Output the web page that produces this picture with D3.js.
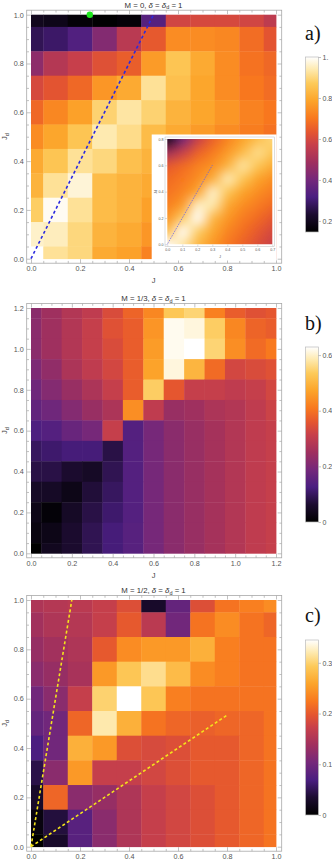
<!DOCTYPE html>
<html>
<head>
<meta charset="utf-8">
<script src="https://cdn.jsdelivr.net/npm/d3@7"></script>
<style>
body { margin: 0; background: #fff; }
svg { display: block; font-family: "Liberation Sans", Arial, sans-serif; }
.tick text { fill: #555; }
</style>
</head>
<body>
<div id="chart"></div>
<script>
// ---- data ----
// panel a : M = 0
var jA = [0, 0.1, 0.2, 0.3, 0.4, 0.5, 0.6, 0.7, 0.8, 0.9, 1.0]
var jdA = [1.0, 0.9, 0.8, 0.7, 0.6, 0.5, 0.4, 0.3, 0.2, 0.1, 0.0]
var valsA = [
  [0.20, 0.19, 0.16, 0.15, 0.16, 0.34, 0.59, 0.60, 0.60, 0.59, 0.55],
  [0.27, 0.29, 0.33, 0.43, 0.54, 0.64, 0.74, 0.74, 0.73, 0.68, 0.63],
  [0.45, 0.53, 0.57, 0.62, 0.65, 0.77, 0.86, 0.80, 0.74, 0.69, 0.67],
  [0.60, 0.63, 0.67, 0.76, 0.80, 0.92, 0.85, 0.79, 0.74, 0.70, 0.68],
  [0.67, 0.73, 0.78, 0.89, 0.93, 0.89, 0.82, 0.79, 0.76, 0.72, 0.70],
  [0.74, 0.79, 0.86, 0.94, 0.91, 0.84, 0.80, 0.77, 0.74, 0.71, 0.69],
  [0.80, 0.86, 0.92, 0.90, 0.85, 0.82, 0.78, 0.75, 0.73, 0.70, 0.68],
  [0.82, 0.92, 0.97, 0.84, 0.82, 0.80, 0.76, 0.74, 0.72, 0.69, 0.67],
  [0.88, 0.99, 0.92, 0.84, 0.82, 0.78, 0.74, 0.72, 0.70, 0.68, 0.66],
  [0.96, 0.95, 0.90, 0.82, 0.80, 0.76, 0.72, 0.70, 0.68, 0.66, 0.64],
  [1.00, 0.92, 0.90, 0.80, 0.78, 0.72, 0.70, 0.68, 0.66, 0.64, 0.62]
]
var rangeA = [0.146, 1.0]
var cbTicksA = [0.2, 0.4, 0.6, 0.8, 1.0]
var greenDot = [0.24, 1.0]
var blueLine = [[0, 0], [0.5, 1.0]]

// inset of panel a (smooth plot, normalised colour values)
var jIn = [0, 0.1, 0.2, 0.3, 0.4, 0.5, 0.6, 0.7]
var jdIn = [0.8, 0.7, 0.6, 0.5, 0.4, 0.3, 0.2, 0.1, 0.0]
var valsIn = [
  [0.05, 0.30, 0.50, 0.60, 0.68, 0.75, 0.82, 0.88],
  [0.40, 0.50, 0.60, 0.66, 0.73, 0.81, 0.90, 0.84],
  [0.58, 0.62, 0.67, 0.71, 0.79, 0.92, 0.84, 0.77],
  [0.62, 0.65, 0.70, 0.77, 0.94, 0.84, 0.75, 0.70],
  [0.64, 0.68, 0.75, 0.96, 0.84, 0.75, 0.70, 0.66],
  [0.67, 0.73, 0.95, 0.93, 0.76, 0.70, 0.66, 0.62],
  [0.72, 0.86, 1.00, 0.80, 0.72, 0.66, 0.62, 0.57],
  [0.82, 1.00, 0.86, 0.76, 0.68, 0.63, 0.58, 0.53],
  [1.00, 0.92, 0.80, 0.72, 0.65, 0.60, 0.55, 0.50]
]
var insetLine = [[0, 0], [0.3, 0.6]]

// panel b : M = 1/3
var jB = [0, 0.1, 0.2, 0.3, 0.4, 0.5, 0.6, 0.7, 0.8, 0.9, 1.0, 1.1, 1.2]
var jdB = [1.2, 1.1, 1.0, 0.9, 0.8, 0.7, 0.6, 0.5, 0.4, 0.3, 0.2, 0.1, 0.0]
var valsB = [
  [0.22, 0.25, 0.28, 0.30, 0.34, 0.38, 0.43, 0.53, 0.55, 0.42, 0.37, 0.35, 0.36],
  [0.22, 0.25, 0.28, 0.31, 0.35, 0.37, 0.45, 0.62, 0.61, 0.54, 0.43, 0.38, 0.37],
  [0.22, 0.25, 0.28, 0.31, 0.34, 0.37, 0.46, 0.62, 0.63, 0.55, 0.44, 0.39, 0.41],
  [0.20, 0.23, 0.27, 0.30, 0.33, 0.37, 0.47, 0.61, 0.50, 0.39, 0.33, 0.34, 0.35],
  [0.18, 0.21, 0.24, 0.27, 0.31, 0.37, 0.54, 0.36, 0.31, 0.31, 0.30, 0.31, 0.33],
  [0.16, 0.18, 0.21, 0.24, 0.27, 0.44, 0.30, 0.24, 0.25, 0.27, 0.28, 0.30, 0.32],
  [0.13, 0.14, 0.17, 0.19, 0.31, 0.14, 0.19, 0.22, 0.24, 0.26, 0.28, 0.30, 0.31],
  [0.10, 0.11, 0.12, 0.12, 0.08, 0.14, 0.19, 0.22, 0.24, 0.26, 0.28, 0.30, 0.31],
  [0.08, 0.08, 0.06, 0.05, 0.09, 0.14, 0.19, 0.22, 0.24, 0.26, 0.28, 0.30, 0.31],
  [0.05, 0.05, 0.03, 0.07, 0.10, 0.14, 0.19, 0.22, 0.24, 0.26, 0.28, 0.30, 0.31],
  [0.03, 0.01, 0.05, 0.08, 0.11, 0.14, 0.19, 0.22, 0.24, 0.26, 0.28, 0.30, 0.31],
  [0.02, 0.03, 0.06, 0.09, 0.12, 0.145, 0.19, 0.22, 0.24, 0.26, 0.28, 0.30, 0.31],
  [0.00, 0.04, 0.06, 0.09, 0.12, 0.145, 0.19, 0.22, 0.24, 0.26, 0.28, 0.30, 0.31]
]
var rangeB = [0, 0.629]
var cbTicksB = [0, 0.2, 0.4, 0.6]

// panel c : M = 1/2
var jC = [0, 0.1, 0.2, 0.3, 0.4, 0.5, 0.6, 0.7, 0.8, 0.9, 1.0]
var jdC = [1.0, 0.9, 0.8, 0.7, 0.6, 0.5, 0.4, 0.3, 0.2, 0.1, 0.0]
var valsC = [
  [0.150, 0.155, 0.160, 0.170, 0.190, 0.030, 0.090, 0.190, 0.220, 0.230, 0.240],
  [0.140, 0.150, 0.155, 0.170, 0.200, 0.160, 0.100, 0.220, 0.240, 0.220, 0.210],
  [0.130, 0.140, 0.150, 0.200, 0.240, 0.250, 0.250, 0.270, 0.230, 0.220, 0.220],
  [0.120, 0.130, 0.145, 0.250, 0.290, 0.310, 0.280, 0.240, 0.230, 0.220, 0.220],
  [0.100, 0.120, 0.170, 0.300, 0.345, 0.290, 0.230, 0.220, 0.220, 0.220, 0.220],
  [0.090, 0.100, 0.210, 0.320, 0.270, 0.220, 0.210, 0.205, 0.210, 0.210, 0.220],
  [0.070, 0.100, 0.270, 0.250, 0.190, 0.185, 0.190, 0.200, 0.200, 0.210, 0.220],
  [0.045, 0.120, 0.250, 0.170, 0.170, 0.180, 0.190, 0.200, 0.200, 0.210, 0.220],
  [0.030, 0.210, 0.120, 0.130, 0.150, 0.170, 0.180, 0.190, 0.200, 0.210, 0.220],
  [0.010, 0.040, 0.080, 0.120, 0.150, 0.170, 0.180, 0.190, 0.200, 0.210, 0.220],
  [0.000, 0.030, 0.080, 0.120, 0.150, 0.170, 0.180, 0.190, 0.200, 0.210, 0.220]
]
var rangeC = [0, 0.345]
var cbTicksC = [0, 0.1, 0.2, 0.3]
var yellowLines = [[[0, 0], [1 / 6, 1.0]], [[0, 0], [0.8, 0.533]]]

// sunset-like colour gradient (black -> purple -> red -> orange -> yellow -> white)
var stopsT = [0, 0.1, 0.2, 0.3, 0.4, 0.5, 0.57, 0.65, 0.75, 0.85, 0.93, 1]
var stopsC = ["#000000", "#1c0c30", "#4a1e80", "#75287a", "#a0305e", "#c8404a",
  "#e45530", "#f8781e", "#fca42a", "#fdca5a", "#feeab0", "#ffffff"]

function makeColor(lo, hi) {
  return d3.scaleLinear()
    .domain(stopsT.map(function (t) { return lo + t * (hi - lo) }))
    .range(stopsC)
    .clamp(true)
}

var svg = d3.select("#chart")
  .append("svg")
    .attr("width", 332)
    .attr("height", 867)

var defs = svg.append("defs")
var f1 = d3.format(".1f")

// one heat map panel with its frame, ticks and labels
function drawPanel(p) {
  var g = svg.append("g")
  var x = d3.scaleLinear().domain([0, p.max]).range([31, 276])
  var y = d3.scaleLinear().domain([0, p.max]).range([p.y0, p.y1])
  var color = makeColor(p.range[0], p.range[1])
  var h = 0.05

  // cells
  p.vals.forEach(function (row, i) {
    g.selectAll(null)
      .data(row)
      .enter()
      .append("rect")
        .attr("x", function (d, k) { return x(Math.max(0, p.j[k] - h)) })
        .attr("width", function (d, k) { return x(Math.min(p.max, p.j[k] + h)) - x(Math.max(0, p.j[k] - h)) + 0.4 })
        .attr("y", y(Math.min(p.max, p.jd[i] + h)))
        .attr("height", y(Math.max(0, p.jd[i] - h)) - y(Math.min(p.max, p.jd[i] + h)) + 0.4)
        .attr("fill", function (d) { return color(d) })
  })

  // frame
  var fx0 = 26.7, fx1 = 281.7, fy0 = p.y1 - 4.5, fy1 = p.y0 + 4.5
  g.append("rect")
    .attr("x", fx0).attr("y", fy0)
    .attr("width", fx1 - fx0).attr("height", fy1 - fy0)
    .attr("fill", "none").attr("stroke", "#a8a8a8").attr("stroke-width", 0.8)

  var major = d3.range(0, p.max + 0.001, 0.2)
  var minor = d3.range(0, p.max + 0.001, 0.05).filter(function (v) { return Math.abs(v / 0.2 - Math.round(v / 0.2)) > 0.01 })

  function ax(a, vals, len, labels) {
    return a.tickValues(vals).tickSizeInner(-len).tickSizeOuter(0).tickPadding(3)
      .tickFormat(labels ? f1 : "")
  }
  var axes = [
    ["translate(0," + fy1 + ")", true],
    ["translate(0," + fy0 + ")", false],
    ["translate(" + fx0 + ",0)", true],
    ["translate(" + fx1 + ",0)", false]
  ]
  var axisMaker = [d3.axisBottom, d3.axisTop, d3.axisLeft, d3.axisRight]
  axes.forEach(function (a, n) {
    var sc = n < 2 ? x : y
    var gm = g.append("g").attr("transform", a[0])
      .call(ax(axisMaker[n](sc), major, 4, a[1]))
    var gn = g.append("g").attr("transform", a[0])
      .call(ax(axisMaker[n](sc), minor, 2.3, false))
    ;[gm, gn].forEach(function (s) {
      s.select(".domain").remove()
      s.selectAll("line").attr("stroke", "#a8a8a8").attr("stroke-width", 0.7)
      s.selectAll("text").attr("font-size", 7.2).attr("fill", "#555")
    })
  })

  // title
  var t = g.append("text")
    .attr("x", 153.5).attr("y", fy0 - 2.5)
    .attr("text-anchor", "middle")
    .attr("font-size", 7.8).attr("fill", "#333")
  t.append("tspan").text("M = " + p.m + ", ")
  t.append("tspan").attr("font-style", "italic").text("δ")
  t.append("tspan").text(" = ")
  t.append("tspan").attr("font-style", "italic").text("δ")
  t.append("tspan").attr("font-size", 5.5).attr("dy", 1.5).text("d")
  t.append("tspan").attr("dy", -1.5).text(" = 1")

  // axis labels (the bottom one of panel c falls below the page)
  if (fy1 + 20 < 860) {
    g.append("text")
      .attr("x", 153.5).attr("y", fy1 + 20)
      .attr("text-anchor", "middle").attr("font-size", 7.5).attr("fill", "#444")
      .text("J")
  }
  var yl = g.append("text")
    .attr("transform", "translate(7," + ((fy0 + fy1) / 2) + ") rotate(-90)")
    .attr("text-anchor", "middle").attr("font-size", 7.5).attr("fill", "#444")
  yl.append("tspan").text("J")
  yl.append("tspan").attr("font-size", 5.5).attr("dy", 1.5).text("d")

  // panel letter
  svg.append("text")
    .attr("x", 305).attr("y", p.letterY)
    .attr("font-family", "'Liberation Serif', 'DejaVu Serif', serif")
    .attr("font-size", 20).attr("fill", "#111")
    .text(p.letter)

  // colour bar
  var cb = d3.scaleLinear().domain(p.range).range([p.cb[1], p.cb[0]])
  var gid = "grad" + p.letter.charAt(0)
  var grad = defs.append("linearGradient")
    .attr("id", gid).attr("x1", 0).attr("y1", 1).attr("x2", 0).attr("y2", 0)
  grad.selectAll("stop")
    .data(stopsT)
    .enter()
    .append("stop")
      .attr("offset", function (d) { return d })
      .attr("stop-color", function (d, i) { return stopsC[i] })
  svg.append("rect")
    .attr("x", 305.5).attr("y", p.cb[0])
    .attr("width", 13).attr("height", p.cb[1] - p.cb[0])
    .attr("fill", "url(#" + gid + ")")
    .attr("stroke", "#bbb").attr("stroke-width", 0.7)
  var gcb = svg.append("g").attr("transform", "translate(318.5,0)")
    .call(d3.axisRight(cb).tickValues(p.cbTicks).tickSizeInner(2.5).tickSizeOuter(0).tickPadding(1.5)
      .tickFormat(p.cbFormat))
  gcb.select(".domain").remove()
  gcb.selectAll("line").attr("stroke", "#999").attr("stroke-width", 0.6)
  gcb.selectAll("text").attr("font-size", 7).attr("fill", "#555")

  return { g: g, x: x, y: y }
}

// ---- panel a ----
var pa = drawPanel({
  j: jA, jd: jdA, vals: valsA, max: 1.0, range: rangeA,
  y0: 258.7, y1: 14.7, m: "0", letter: "a)", letterY: 40,
  cb: [57, 232], cbTicks: cbTicksA,
  cbFormat: function (d) { return d === 1 ? "1." : f1(d) }
})

pa.g.append("line")
  .attr("x1", pa.x(blueLine[0][0])).attr("y1", pa.y(blueLine[0][1]))
  .attr("x2", pa.x(blueLine[1][0])).attr("y2", pa.y(blueLine[1][1]))
  .attr("stroke", "#2a2ae0").attr("stroke-width", 1.6)
  .attr("stroke-dasharray", "3,2.6")

pa.g.append("circle")
  .attr("cx", pa.x(greenDot[0])).attr("cy", pa.y(greenDot[1]))
  .attr("r", 3.2).attr("fill", "#1ee81e")

// inset
var gi = pa.g.append("g")
gi.append("rect")
  .attr("x", 151.7).attr("y", 134.5).attr("width", 125).attr("height", 126)
  .attr("fill", "#fff")
var xi = d3.scaleLinear().domain([0, 0.7]).range([167.3, 272.3])
var yi = d3.scaleLinear().domain([0, 0.8]).range([244.3, 139])
var colorIn = makeColor(0, 1)

// smooth density: tiny bitmap (edges repeated) scaled up and softened
var pad = 2
var cv = document.createElement("canvas")
cv.width = jIn.length + 2 * pad
cv.height = jdIn.length + 2 * pad
var ctx = cv.getContext("2d")
for (var i = 0; i < cv.height; i++) {
  for (var k = 0; k < cv.width; k++) {
    var ii = Math.min(jdIn.length - 1, Math.max(0, i - pad))
    var kk = Math.min(jIn.length - 1, Math.max(0, k - pad))
    ctx.fillStyle = colorIn(valsIn[ii][kk])
    ctx.fillRect(k, i, 1, 1)
  }
}
defs.append("clipPath").attr("id", "insetClip")
  .append("rect")
    .attr("x", xi(0)).attr("y", yi(0.8))
    .attr("width", xi(0.7) - xi(0)).attr("height", yi(0) - yi(0.8))
defs.append("filter").attr("id", "soft")
  .append("feGaussianBlur").attr("stdDeviation", 3.5)
gi.append("g")
  .attr("clip-path", "url(#insetClip)")
  .append("image")
    .attr("href", cv.toDataURL())
    .attr("x", xi(-0.05 - pad * 0.1)).attr("y", yi(0.85 + pad * 0.1))
    .attr("width", xi(0.75 + pad * 0.1) - xi(-0.05 - pad * 0.1))
    .attr("height", yi(-0.05 - pad * 0.1) - yi(0.85 + pad * 0.1))
    .attr("preserveAspectRatio", "none")
    .attr("filter", "url(#soft)")

gi.append("rect")
  .attr("x", 165).attr("y", 137).attr("width", 109.5).attr("height", 109.5)
  .attr("fill", "none").attr("stroke", "#bbb").attr("stroke-width", 0.5)

var inAxes = [
  [d3.axisBottom(xi).tickValues(d3.range(0, 0.71, 0.1)), "translate(0,246.5)"],
  [d3.axisLeft(yi).tickValues(d3.range(0, 0.81, 0.2)), "translate(165,0)"]
]
inAxes.forEach(function (a) {
  var s = gi.append("g").attr("transform", a[1])
    .call(a[0].tickSizeInner(-2).tickSizeOuter(0).tickPadding(1.5).tickFormat(f1))
  s.select(".domain").remove()
  s.selectAll("line").attr("stroke", "#bbb").attr("stroke-width", 0.5)
  s.selectAll("text").attr("font-size", 3.6).attr("fill", "#666")
})
gi.append("text").attr("x", 220).attr("y", 257.5)
  .attr("text-anchor", "middle").attr("font-size", 4).attr("fill", "#666").text("J")
gi.append("text").attr("transform", "translate(156.5,192) rotate(-90)")
  .attr("text-anchor", "middle").attr("font-size", 4).attr("fill", "#666").text("Jd")

gi.append("line")
  .attr("x1", xi(insetLine[0][0])).attr("y1", yi(insetLine[0][1]))
  .attr("x2", xi(insetLine[1][0])).attr("y2", yi(insetLine[1][1]))
  .attr("stroke", "#5a5af0").attr("stroke-width", 0.9)
  .attr("stroke-dasharray", "0.9,1.1")

// ---- panel b ----
drawPanel({
  j: jB, jd: jdB, vals: valsB, max: 1.2, range: rangeB,
  y0: 553.3, y1: 308, m: "1/3", letter: "b)", letterY: 330,
  cb: [347, 522], cbTicks: cbTicksB,
  cbFormat: function (d) { return d === 0 ? "0" : f1(d) }
})

// ---- panel c ----
var pc = drawPanel({
  j: jC, jd: jdC, vals: valsC, max: 1.0, range: rangeC,
  y0: 846.7, y1: 600, m: "1/2", letter: "c)", letterY: 622,
  cb: [640, 815], cbTicks: cbTicksC,
  cbFormat: function (d) { return d === 0 ? "0" : f1(d) }
})

pc.g.selectAll("line.yl")
  .data(yellowLines)
  .enter()
  .append("line")
    .attr("x1", function (d) { return pc.x(d[0][0]) })
    .attr("y1", function (d) { return pc.y(d[0][1]) })
    .attr("x2", function (d) { return pc.x(d[1][0]) })
    .attr("y2", function (d) { return pc.y(d[1][1]) })
    .attr("stroke", "#f4e41c").attr("stroke-width", 1.6)
    .attr("stroke-dasharray", "3,2.4")
</script>
</body>
</html>
